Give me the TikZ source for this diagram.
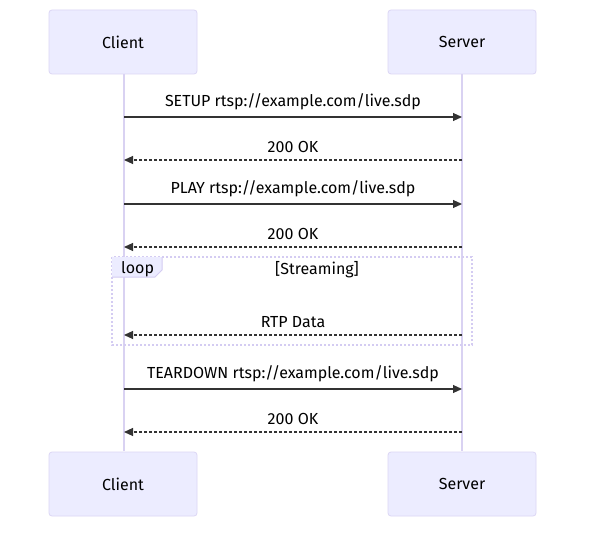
\documentclass[tikz,border=0pt]{standalone}
\usepackage{fontspec}
\setmainfont{Fira Sans}
\usetikzlibrary{arrows.meta}
\definecolor{actfill}{HTML}{ECECFF}
\definecolor{actdraw}{HTML}{DCD6F5}
\definecolor{lifeln}{HTML}{D9D2F2}
\definecolor{msgcol}{HTML}{333333}
\definecolor{loopdraw}{HTML}{D4CCF2}
\tikzset{
  actor/.style={draw=actdraw, fill=actfill, rounded corners=3pt, minimum width=148pt, minimum height=64pt, inner sep=0pt, font=\fontsize{16}{18}\selectfont, line width=0.8pt},
  life/.style={draw=lifeln, line width=1.6pt},
  msg/.style={draw=msgcol, line width=1.1pt, -{Triangle[length=9pt,width=8pt]}},
  reply/.style={msg, dash pattern=on 3pt off 2pt},
  lbl/.style={font=\fontsize{16}{18}\selectfont, text=black, inner sep=0pt},
}
\begin{document}
\begin{tikzpicture}[x=1pt,y=-1pt]
\useasboundingbox (0,0) rectangle (593,534);
\fill[white] (0,0) rectangle (593,534);
% lifelines
\coordinate (ct) at (124,73); \coordinate (cb) at (124,451);
\coordinate (st) at (462,73); \coordinate (sb) at (462,451);
\draw[life] (ct) -- (cb);
\draw[life] (st) -- (sb);
% actors
\node[actor] (c1) at (123,42) {Client};
\node[actor] (s1) at (462,42) {Server};
\node[actor] (c2) at (123,484) {Client};
\node[actor] (s2) at (462,484) {Server};
% loop frame
\draw[loopdraw, line width=1.2pt, dash pattern=on 2pt off 2pt] (112,257) rectangle (472,345);
\fill[actfill] (112,257) -- (162,257) -- (162,270) -- (155,277) -- (112,277) -- cycle;
\draw[loopdraw, line width=1pt] (162,257) -- (162,270) -- (155,277) -- (112,277);
\node[lbl, anchor=west] (looplbl) at (121,269) {loop};
\node[lbl] (cond) at (317,270) {[Streaming]};
% message anchors
\foreach \n/\y in {1/117,2/160,3/204,4/247,5/335,6/389,7/432}{
  \coordinate (c\n) at (124,\y);
  \coordinate (s\n) at (462,\y);
}
\draw[msg] (c1) -- (s1) node[lbl, midway, above=6.5pt] {SETUP rtsp://example.com/live.sdp};
\draw[reply] (s2) -- (c2) node[lbl, midway, above=6.5pt] {200 OK};
\draw[msg] (c3) -- (s3) node[lbl, midway, above=6.5pt] {PLAY rtsp://example.com/live.sdp};
\draw[reply] (s4) -- (c4) node[lbl, midway, above=6.5pt] {200 OK};
\draw[reply] (s5) -- (c5) node[lbl, midway, above=6.5pt] {RTP Data};
\draw[msg] (c6) -- (s6) node[lbl, midway, above=6.5pt] {TEARDOWN rtsp://example.com/live.sdp};
\draw[reply] (s7) -- (c7) node[lbl, midway, above=6.5pt] {200 OK};
\end{tikzpicture}
\end{document}
